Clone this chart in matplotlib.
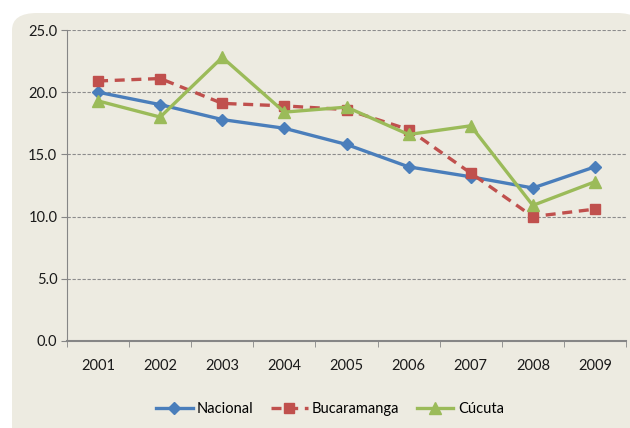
import matplotlib
matplotlib.use("Agg")
import matplotlib.pyplot as plt
from matplotlib.patches import FancyBboxPatch
import numpy as np

years = ["2001", "2002", "2003", "2004", "2005", "2006", "2007", "2008", "2009"]
nacional = [20.0, 19.0, 17.8, 17.1, 15.8, 14.0, 13.2, 12.3, 14.0]
bucaramanga = [20.9, 21.1, 19.1, 18.9, 18.6, 17.0, 13.5, 10.0, 10.6]
cucuta = [19.3, 18.0, 22.8, 18.4, 18.8, 16.6, 17.3, 10.9, 12.8]
yticks = [0, 5, 10, 15, 20, 25]

plt.rcParams['font.family'] = ['Lato', 'DejaVu Sans']

W, H = 630, 428
fig = plt.figure(figsize=(W/100, H/100), dpi=100)
fig.patch.set_facecolor('white')
bg = FancyBboxPatch((12/W, -0.1), 1.0, 1.1 - 13/H,
                    boxstyle="round,pad=0,rounding_size=0.04",
                    transform=fig.transFigure, facecolor='#EDEBE1',
                    edgecolor='none', zorder=-10)
fig.patches.append(bg)

ax = fig.add_axes([67/W, 1-341/H, (626-67)/W, (341-30)/H])
ax.set_facecolor('none')
x = np.arange(len(years))
ax.plot(x, nacional, color='#4A7EBB', lw=2.4, marker='D', ms=6.5, label='Nacional', zorder=3)
ax.plot(x, bucaramanga, color='#C0504D', lw=2.4, ls=(0, (3, 2)), marker='s', ms=7, label='Bucaramanga', zorder=3)
ax.plot(x, cucuta, color='#9BBB59', lw=2.4, marker='^', ms=8, label='Cúcuta', zorder=4)

ax.set_xlim(-0.5, len(years)-0.5)
ax.set_ylim(0, 25)
ax.set_yticks(yticks)
ax.set_yticklabels([f"{v:.1f}" for v in yticks], fontsize=10.5, color='#1a1a1a')
ax.set_xticks(x)
ax.set_xticklabels(years, fontsize=10.5, color='#1a1a1a')
ax.set_xticks(np.arange(-0.5, len(years)), minor=True)
ax.tick_params(axis='x', which='major', length=0, pad=13)
ax.tick_params(axis='x', which='minor', length=4, color='#868686', direction='out')
ax.tick_params(axis='y', length=4, color='#868686', pad=3)
ax.grid(axis='y', ls=(0, (3, 1.5)), color='#8c8c8c', lw=0.8)
ax.set_axisbelow(True)
for s in ['top', 'right']:
    ax.spines[s].set_visible(False)
ax.spines['left'].set_color('#868686')
ax.spines['bottom'].set_color('#868686')
ax.spines['bottom'].set_linewidth(1.5)

leg = fig.legend(loc='center', bbox_to_anchor=(330/W, 1-409/H), ncol=3, frameon=False,
                 fontsize=10.5, handlelength=2.5, columnspacing=1.2, handletextpad=0.3)

fig.savefig("out.png", dpi=100, facecolor='white')
